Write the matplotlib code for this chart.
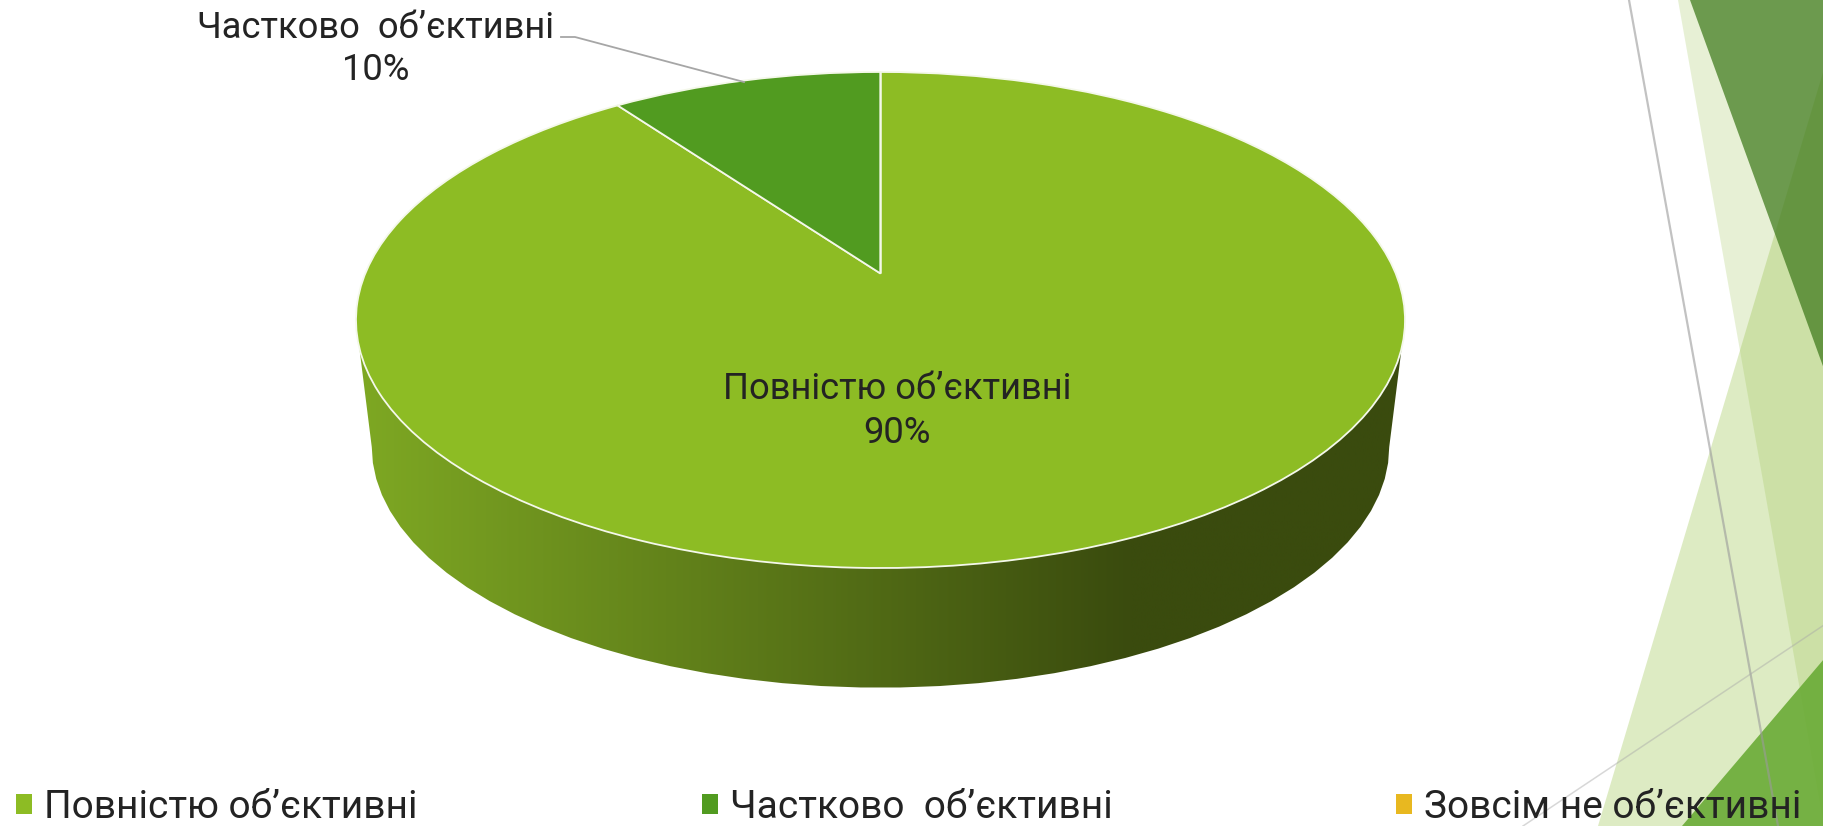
import numpy as np
import matplotlib
matplotlib.use("Agg")
import matplotlib.pyplot as plt
import matplotlib.transforms as mtransforms
from matplotlib.colors import LinearSegmentedColormap
from matplotlib.patches import Polygon, Patch

categories = ["Повністю об’єктивні", "Частково  об’єктивні", "Зовсім не об’єктивні"]
values = [90, 10, 0]
colors = ["#8DBC24", "#519B20", "#E8B820"]

FONT = "Roboto"
TEXT = "#232323"
plt.rcParams["font.family"] = [FONT, "DejaVu Sans"]

W, H = 1824, 826
fig = plt.figure(figsize=(W / 100, H / 100), dpi=100, facecolor="white")
ax = fig.add_axes([0, 0, 1, 1])


class Perspective(mtransforms.Transform):
    input_dims = 2
    output_dims = 2

    def __init__(self, cx, cy, a, b, k):
        super().__init__()
        self.p = (cx, cy, a, b, k)

    def transform_non_affine(self, values):
        cx, cy, a, b, k = self.p
        xy = np.asarray(values, dtype=float)
        w = 1 + k * xy[:, 1]
        return np.column_stack([cx + a * xy[:, 0] / w, cy - b * xy[:, 1] / w])


K = 0.1875
top = Perspective(880.5, 273.5, 515.2, 239.3, K)
bottom = Perspective(880.5, 402.0, 499.7, 232.1, K)

wedges, *_ = ax.pie(values, colors=colors, startangle=90, counterclock=False, radius=1,
                    wedgeprops=dict(edgecolor="#F4F8EA", linewidth=1.3, zorder=5))

ax.set_aspect("auto")
ax.set_xlim(0, W)
ax.set_ylim(H, 0)
ax.axis("off")
for wd in wedges:
    wd.set_transform(top + ax.transData)

# background decoration
shapes = [
    ([(1678, 0), (1824, 826), (1824, 0)], "#A9CC6A", 0.28, 1),
    ([(1598, 826), (1824, 69), (1824, 826)], "#90BE3A", 0.30, 1.1),
    ([(1690, 0), (1824, 369), (1824, 0)], "#3F7A1C", 0.73, 1.2),
    ([(1682, 826), (1824, 659), (1824, 826)], "#6AAB36", 0.90, 1.3),
]
for pts, c, a, z in shapes:
    ax.add_patch(Polygon(pts, closed=True, facecolor=c, alpha=a, edgecolor="none", zorder=z))
ax.plot([1629, 1778], [0, 826], color="#9A9A9A", alpha=0.6, lw=1.6, zorder=1.5)
ax.plot([1824, 1523], [625, 826], color="#A8A8A8", alpha=0.45, lw=1.1, zorder=1.5)

# pie side wall
v0 = -0.2941
t0 = np.arcsin(-v0)
th = np.linspace(np.pi + t0, 2 * np.pi - t0, 200)
upper = top.transform_non_affine(np.column_stack([np.cos(th), np.sin(th)]))
t1 = np.arcsin(K)
th2 = np.linspace(2 * np.pi - t1, np.pi + t1, 44)  # faceted lower outline
lower = bottom.transform_non_affine(np.column_stack([np.cos(th2), np.sin(th2)]))
side = Polygon(np.vstack([upper, lower]), closed=True, transform=ax.transData,
               facecolor="none", edgecolor="none")
ax.add_patch(side)
cmap = LinearSegmentedColormap.from_list("side", ["#7EA823", "#3A4B0E"])
grad = np.clip(np.linspace(-0.0, 1.35, 512), 0, 1)[None, :]
im = ax.imshow(grad, cmap=cmap, vmin=0, vmax=1, extent=(358, 1403, 700, 340),
               aspect="auto", zorder=3, interpolation="bilinear")
im.set_clip_path(side)
ax.set_xlim(0, W)
ax.set_ylim(H, 0)

# data labels
FS = 26.2
ax.text(897, 389, categories[0], ha="center", va="center", fontsize=FS, color=TEXT, zorder=7)
ax.text(897, 433, f"{values[0]}%", ha="center", va="center", fontsize=FS, color=TEXT, zorder=7)
ax.text(376, 28, categories[1], ha="center", va="center", fontsize=FS, color=TEXT, zorder=7)
ax.text(376, 70, f"{values[1]}%", ha="center", va="center", fontsize=FS, color=TEXT, zorder=7)
ax.plot([561, 575, 744], [37, 37, 82], color="#A6A6A6", lw=1.3, zorder=6)

# legend
LFS = 28
px = LFS * 100 / 72
handles = [Patch(facecolor=c, edgecolor="none") for c in colors]
leg = ax.legend(handles, categories, ncol=3, loc="lower left", bbox_to_anchor=(16, 826),
                bbox_transform=ax.transData, frameon=False, fontsize=LFS, labelcolor=TEXT,
                handlelength=16 / px, handleheight=16 / px, handletextpad=12 / px,
                columnspacing=284 / px, borderpad=0, borderaxespad=0, labelspacing=0)
leg.set_zorder(8)

fig.savefig("out.png", dpi=100, facecolor="white")
